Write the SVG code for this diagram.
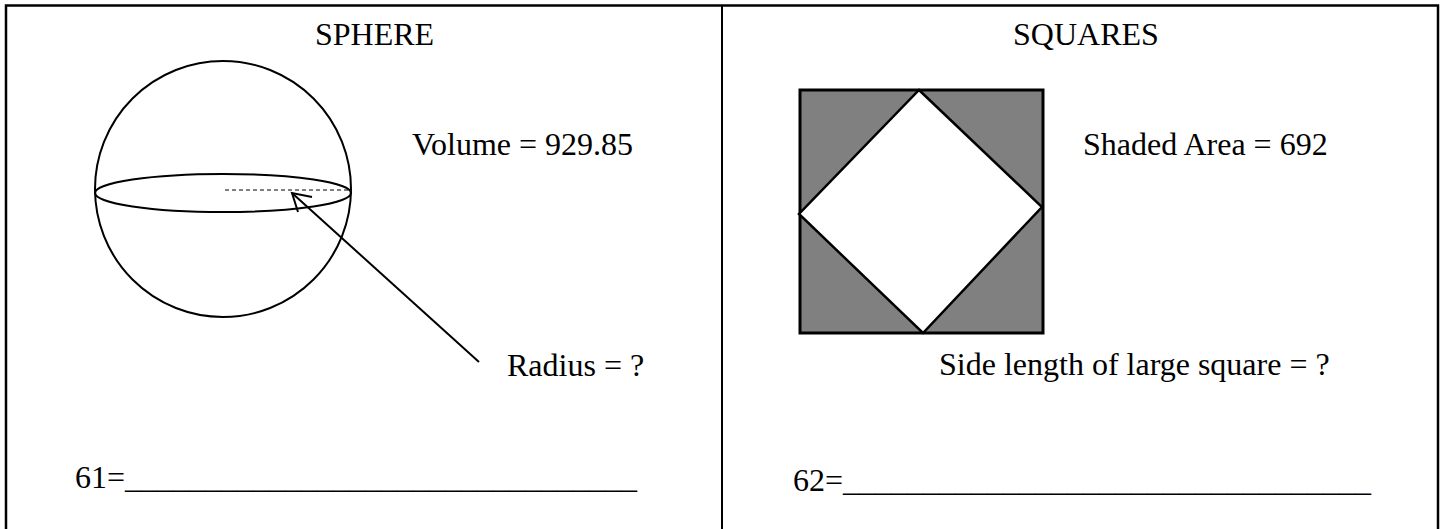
<svg xmlns="http://www.w3.org/2000/svg" width="1445" height="529" viewBox="0 0 1445 529">
<style>
  text { font-family: "Liberation Serif", "Times New Roman", serif; font-size: 32px; fill: #000; }
  .ln { stroke: #000; fill: none; stroke-width: 2; }
</style>
<rect x="0" y="0" width="1445" height="529" fill="#fff"/>
<g id="frame">
  <rect x="6" y="5.5" width="1432" height="540" fill="none" stroke="#000" stroke-width="2.5"/>
  <line x1="722" y1="5.5" x2="722" y2="529" stroke="#000" stroke-width="2"/>
</g>
<g id="sphere-panel">
  <text x="315" y="45">SPHERE</text>
  <circle cx="223" cy="189" r="128" class="ln"/>
  <ellipse cx="223" cy="193" rx="128" ry="19" class="ln"/>
  <line x1="225" y1="190" x2="351" y2="190" stroke="#000" stroke-width="1" stroke-dasharray="4 3"/>
  <text x="412" y="155">Volume = 929.85</text>
  <text x="507" y="376">Radius = ?</text>
  <text x="75" y="488">61=________________________________</text>
</g>
<g id="connectors">
  <line x1="479" y1="362" x2="292" y2="193" class="ln"/>
  <polyline points="312,197 292,193 298,212" class="ln"/>
</g>
<g id="squares-panel">
  <text x="1013" y="45">SQUARES</text>
  <rect x="800" y="90" width="243" height="243" fill="#808080" stroke="#000" stroke-width="3"/>
  <polygon points="919,90 1042,207 923,333 799,214" fill="#fff" stroke="#000" stroke-width="2.5" stroke-linejoin="miter"/>
  <text x="1083" y="155">Shaded Area = 692</text>
  <text x="939" y="375">Side length of large square = ?</text>
  <text x="793" y="491">62=_________________________________</text>
</g>
</svg>
